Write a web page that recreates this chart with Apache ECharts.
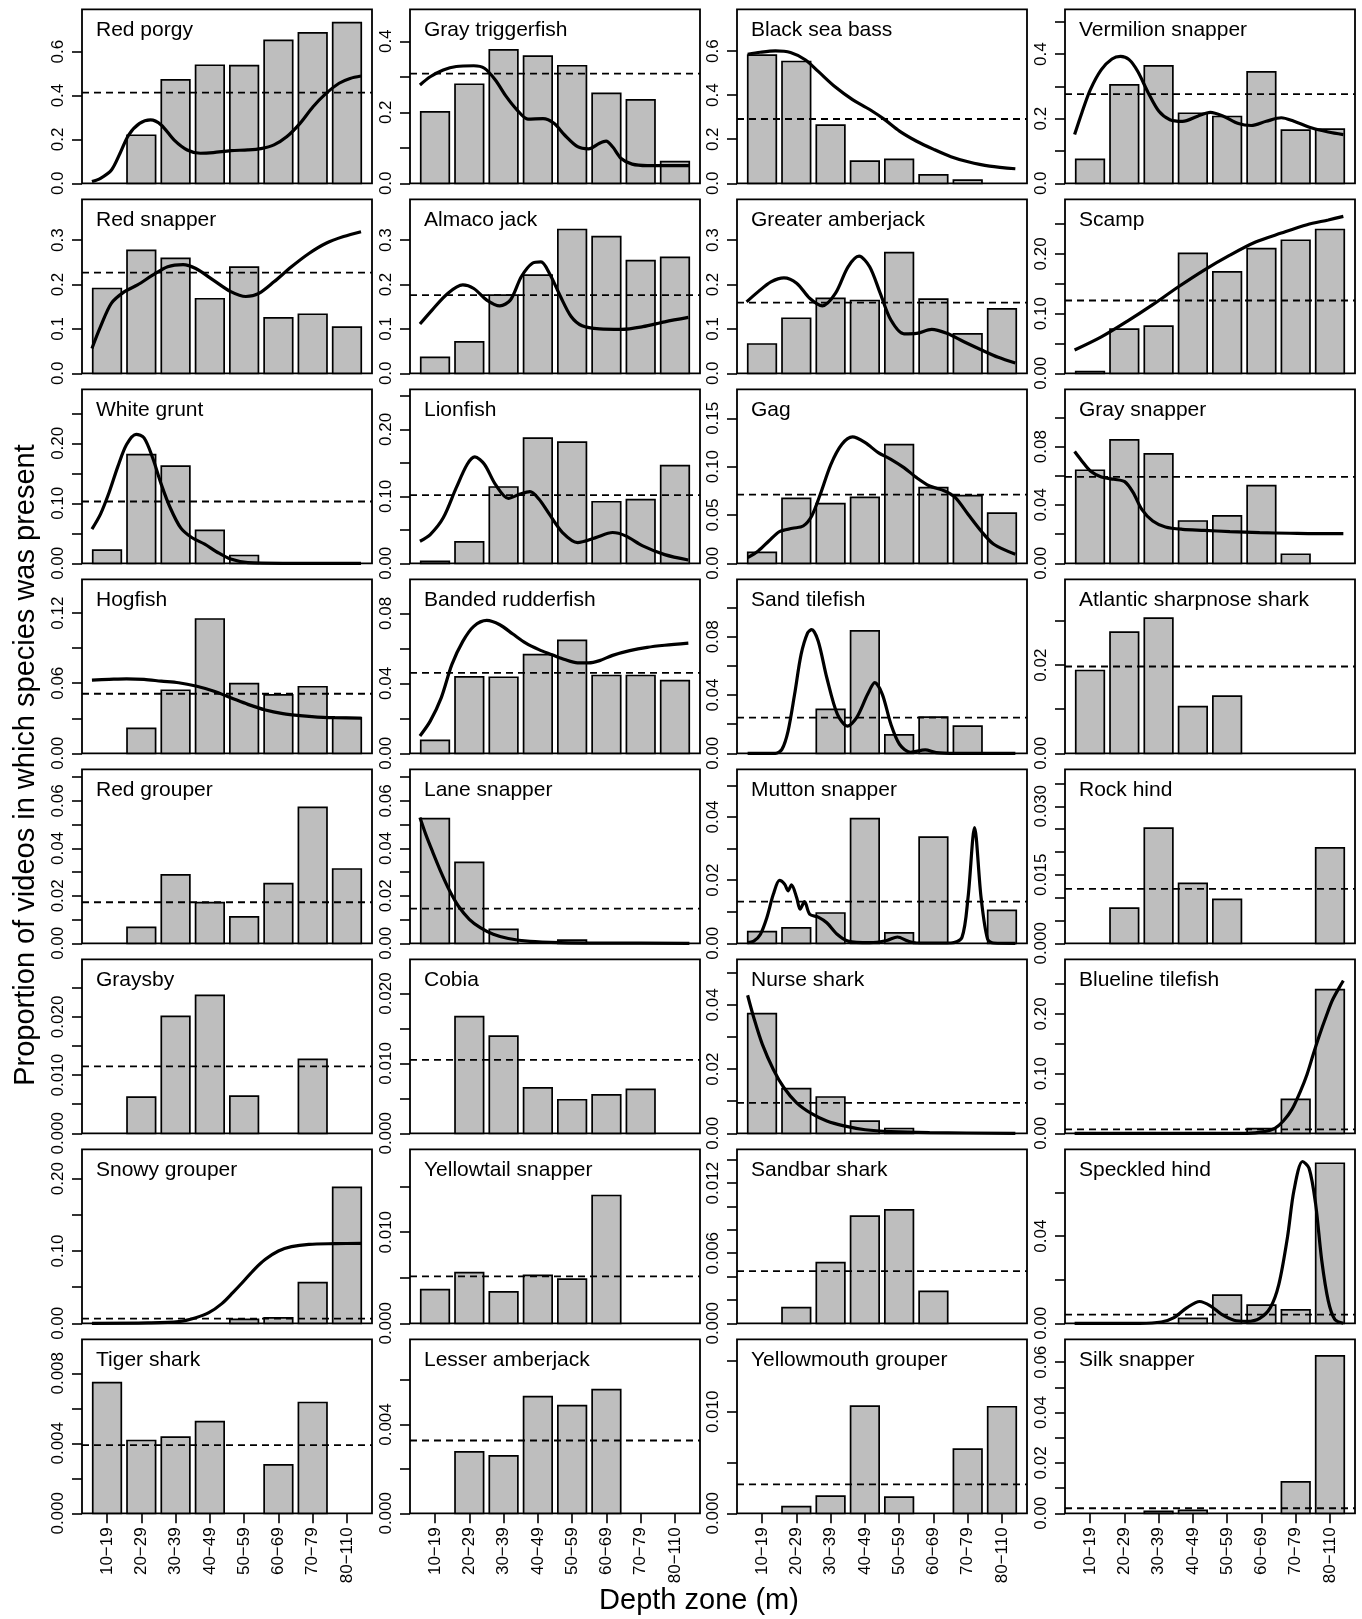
<!DOCTYPE html>
<html><head><meta charset="utf-8">
<script src="https://cdn.jsdelivr.net/npm/echarts@6/dist/echarts.min.js"></script>
<style>html,body{margin:0;padding:0;background:#fff}#c{width:1362px;height:1619px}</style>
</head><body><div id="c"></div>
<script>
// ---------------- DATA ----------------
const depthZones = ['10\u221219','20\u221229','30\u221239','40\u221249','50\u221259','60\u221269','70\u221279','80\u2212110'];
const zonePos = [1,2,3,4,5,6,7,8];

const species = ['Red porgy','Gray triggerfish','Black sea bass','Vermilion snapper',
 'Red snapper','Almaco jack','Greater amberjack','Scamp',
 'White grunt','Lionfish','Gag','Gray snapper',
 'Hogfish','Banded rudderfish','Sand tilefish','Atlantic sharpnose shark',
 'Red grouper','Lane snapper','Mutton snapper','Rock hind',
 'Graysby','Cobia','Nurse shark','Blueline tilefish',
 'Snowy grouper','Yellowtail snapper','Sandbar shark','Speckled hind',
 'Tiger shark','Lesser amberjack','Yellowmouth grouper','Silk snapper'];

// proportion of videos with species present, per depth zone
const presence = [
 [0,0.219,0.471,0.538,0.536,0.651,0.686,0.732],
 [0.201,0.279,0.376,0.358,0.331,0.253,0.235,0.061],
 [0.582,0.553,0.264,0.101,0.109,0.038,0.014,0],
 [0.074,0.305,0.364,0.217,0.207,0.345,0.165,0.168],
 [0.191,0.277,0.259,0.168,0.239,0.125,0.133,0.104],
 [0.036,0.071,0.176,0.221,0.324,0.308,0.254,0.261],
 [0.066,0.124,0.169,0.164,0.272,0.167,0.089,0.145],
 [0.003,0.074,0.079,0.201,0.170,0.209,0.223,0.241],
 [0.022,0.181,0.162,0.055,0.013,0,0,0],
 [0.003,0.032,0.114,0.187,0.181,0.092,0.095,0.146],
 [0.0114,0.0672,0.0617,0.0683,0.1228,0.0783,0.070,0.052],
 [0.0638,0.0846,0.075,0.029,0.0325,0.0533,0.0062,0],
 [0,0.0214,0.054,0.115,0.0596,0.050,0.057,0.0305],
 [0.0074,0.0437,0.0435,0.0564,0.0646,0.0445,0.0445,0.0416],
 [0,0,0.0302,0.0841,0.0126,0.0249,0.0187,0],
 [0.0188,0.0275,0.0307,0.0106,0.013,0,0,0],
 [0,0.0067,0.0288,0.0171,0.0111,0.0251,0.0573,0.0313],
 [0.0525,0.0341,0.0059,0,0.0013,0,0,0],
 [0.0037,0.0049,0.0096,0.0395,0.0033,0.0336,0,0.0104],
 [0,0.0077,0.0252,0.0131,0.0096,0,0,0.0209],
 [0,0.0062,0.0201,0.0237,0.0064,0,0.0127,0],
 [0,0.0167,0.0139,0.0065,0.0048,0.0055,0.0063,0],
 [0.0373,0.0139,0.0113,0.0038,0.0015,0,0,0],
 [0,0,0,0,0,0.0078,0.0568,0.2407],
 [0,0,0,0,0.0055,0.0074,0.0562,0.188],
 [0.0037,0.00557,0.00344,0.00527,0.00484,0.01403,0,0],
 [0,0.00134,0.0052,0.00917,0.00971,0.00274,0,0],
 [0,0,0,0.0023,0.0129,0.0083,0.0062,0.0734],
 [0.00747,0.00416,0.00435,0.00524,0,0.00277,0.00633,0],
 [0,0.00277,0.00259,0.00526,0.00485,0.00557,0,0],
 [0,0.00066,0.0017,0.01056,0.0016,0,0.00633,0.0105],
 [0,0,0.0008,0.0012,0,0,0.0125,0.0625]
];

// overall proportion (dashed line)
const overall = [0.413,0.309,0.292,0.276,0.227,0.176,0.159,0.122,0.103,0.102,0.071,0.0592,
 0.051,0.046,0.0245,0.0197,0.0173,0.0146,0.0132,0.0119,0.0115,0.0105,0.0095,0.0067,
 0.0065,0.00516,0.00446,0.004,0.0039,0.00328,0.00285,0.002];

// y axis top, tick step, label every n-th tick
const yMax = [0.793,0.49,0.79,0.539,0.392,0.392,0.392,0.2916,0.29,0.26,0.18,0.1193,
 0.149,0.0995,0.1195,0.0395,0.0733,0.0733,0.0551,0.0381,0.0299,0.0249,0.0542,0.2914,
 0.2406,0.0191,0.0149,0.0798,0.00994,0.00784,0.01715,0.0691];
const yStep = [0.2,0.1,0.2,0.1,0.1,0.1,0.1,0.05,0.05,0.05,0.05,0.02,
 0.03,0.02,0.02,0.01,0.01,0.01,0.01,0.005,0.005,0.005,0.01,0.05,
 0.05,0.005,0.002,0.02,0.002,0.002,0.005,0.01];
const labelEvery = [1,2,1,2,1,1,1,2,2,2,1,2,
 2,2,2,2,2,2,2,3,2,2,2,2,
 2,2,3,2,2,2,2,2];

// smoothed curves: [zone position, proportion]
const curveRedPorgy = [[0.56,0.008],[0.81,0.023],[1.13,0.061],[1.38,0.137],[1.63,0.22],[1.95,0.273],[2.27,0.289],[2.58,0.266],[2.96,0.197],[3.34,0.152],[3.72,0.137],[4.10,0.14],[4.61,0.149],[5.11,0.152],[5.49,0.158],[5.87,0.175],[6.25,0.213],[6.63,0.273],[7.01,0.349],[7.39,0.41],[7.77,0.456],[8.09,0.478],[8.41,0.489]];
const curveGrayTriggerfish = [[0.56,0.277],[0.86,0.300],[1.24,0.319],[1.62,0.329],[2.13,0.331],[2.44,0.324],[2.76,0.291],[3.08,0.244],[3.39,0.207],[3.71,0.181],[4.15,0.182],[4.47,0.169],[4.78,0.136],[5.16,0.103],[5.48,0.097],[5.80,0.113],[5.99,0.119],[6.18,0.103],[6.43,0.070],[6.75,0.054],[7.19,0.050],[7.82,0.050],[8.42,0.050]];
const curveBlackSeaBass = [[0.58,0.586],[0.95,0.595],[1.39,0.601],[1.83,0.594],[2.26,0.561],[2.64,0.508],[3.14,0.437],[3.64,0.380],[4.14,0.335],[4.58,0.289],[5.01,0.237],[5.51,0.191],[6.01,0.154],[6.51,0.121],[7.01,0.098],[7.64,0.078],[8.39,0.066]];
const curveVermilion = [[0.55,0.151],[0.76,0.218],[1.01,0.290],[1.33,0.352],[1.64,0.385],[1.89,0.393],[2.14,0.383],[2.39,0.347],[2.70,0.280],[3.01,0.223],[3.33,0.197],[3.70,0.192],[4.14,0.208],[4.51,0.220],[4.89,0.208],[5.33,0.185],[5.70,0.179],[6.14,0.192],[6.58,0.203],[6.95,0.192],[7.45,0.172],[7.95,0.159],[8.39,0.151]];
const curveRedSnapper = [[0.56,0.056],[0.81,0.105],[1.13,0.158],[1.51,0.184],[1.89,0.199],[2.33,0.221],[2.77,0.240],[3.22,0.245],[3.59,0.236],[4.10,0.210],[4.61,0.184],[5.05,0.173],[5.43,0.180],[5.87,0.206],[6.38,0.240],[6.89,0.270],[7.39,0.293],[7.90,0.308],[8.41,0.319]];
const curveAlmaco = [[0.56,0.111],[0.92,0.143],[1.37,0.180],[1.81,0.199],[2.13,0.191],[2.51,0.165],[2.89,0.152],[3.20,0.165],[3.52,0.218],[3.84,0.248],[4.09,0.251],[4.34,0.225],[4.66,0.173],[4.97,0.128],[5.29,0.107],[5.80,0.100],[6.43,0.099],[7.06,0.105],[7.70,0.116],[8.39,0.126]];
const curveGreaterAmberjack = [[0.55,0.161],[0.89,0.184],[1.26,0.206],[1.64,0.215],[2.01,0.203],[2.39,0.169],[2.76,0.152],[3.14,0.180],[3.51,0.240],[3.83,0.264],[4.14,0.240],[4.45,0.180],[4.76,0.120],[5.14,0.089],[5.51,0.090],[5.95,0.099],[6.39,0.090],[6.89,0.071],[7.39,0.053],[7.89,0.036],[8.39,0.023]];
const curveScamp = [[0.55,0.039],[1.33,0.061],[2.08,0.087],[2.83,0.115],[3.58,0.145],[4.33,0.173],[5.08,0.198],[5.83,0.220],[6.58,0.235],[7.33,0.249],[7.95,0.257],[8.39,0.263]];
const curveWhiteGrunt = [[0.56,0.057],[0.81,0.082],[1.06,0.118],[1.32,0.162],[1.57,0.198],[1.85,0.215],[2.08,0.209],[2.33,0.176],[2.58,0.132],[2.84,0.093],[3.15,0.059],[3.47,0.043],[3.85,0.032],[4.23,0.018],[4.61,0.007],[5.11,0.001],[6.13,0],[8.41,0]];
const curveLionfish = [[0.56,0.033],[0.86,0.043],[1.24,0.068],[1.62,0.113],[1.94,0.148],[2.16,0.159],[2.44,0.148],[2.76,0.118],[3.14,0.097],[3.46,0.103],[3.77,0.107],[4.03,0.096],[4.34,0.073],[4.72,0.046],[5.16,0.031],[5.67,0.038],[6.18,0.046],[6.56,0.041],[7.06,0.026],[7.70,0.013],[8.39,0.005]];
const curveGag = [[0.58,0.0059],[0.89,0.0128],[1.2,0.0231],[1.51,0.0328],[1.89,0.0362],[2.2,0.0386],[2.45,0.049],[2.7,0.0714],[3.01,0.1024],[3.33,0.1231],[3.64,0.1307],[4.01,0.1248],[4.39,0.1145],[4.76,0.1076],[5.14,0.099],[5.51,0.0886],[5.89,0.08],[6.33,0.0748],[6.64,0.0679],[7.01,0.0507],[7.39,0.0334],[7.76,0.0197],[8.39,0.0093]];
const curveGraySnapper = [[0.55,0.0766],[0.76,0.0702],[1.01,0.0633],[1.33,0.0592],[1.7,0.0576],[2.01,0.056],[2.26,0.0485],[2.51,0.037],[2.83,0.029],[3.2,0.0249],[3.7,0.0233],[4.33,0.0226],[5.08,0.0217],[5.95,0.021],[6.83,0.0206],[7.58,0.0203],[8.39,0.0203]];
const curveHogfish = [[0.56,0.0627],[1.06,0.0633],[1.57,0.0638],[2.08,0.0633],[2.58,0.0618],[3.09,0.0604],[3.59,0.0576],[4.10,0.0533],[4.61,0.0476],[5.11,0.0419],[5.62,0.0371],[6.13,0.034],[6.63,0.0322],[7.14,0.031],[7.65,0.0305],[8.41,0.030]];
const curveBandedRudderfish = [[0.56,0.0099],[0.86,0.0184],[1.18,0.0317],[1.49,0.0507],[1.81,0.064],[2.13,0.0726],[2.51,0.076],[2.89,0.0735],[3.27,0.0682],[3.65,0.063],[4.03,0.0593],[4.41,0.0564],[4.78,0.0536],[5.16,0.0517],[5.48,0.0517],[5.80,0.053],[6.18,0.056],[6.68,0.0587],[7.19,0.0606],[7.70,0.0618],[8.39,0.063]];
const curveSandTilefish = [[0.58,0],[1.0,0],[1.39,0],[1.58,0.0027],[1.76,0.0153],[1.95,0.0405],[2.14,0.0679],[2.33,0.0827],[2.45,0.085],[2.64,0.077],[2.89,0.0519],[3.2,0.0267],[3.49,0.0187],[3.76,0.0245],[4.08,0.0405],[4.29,0.0485],[4.51,0.0405],[4.76,0.0199],[5.01,0.0062],[5.33,0.0007],[5.76,0.0023],[6.08,0.0005],[6.64,0],[7.5,0],[8.39,0]];
const curveLaneSnapper = [[0.56,0.053],[0.73,0.0459],[0.92,0.0389],[1.18,0.0298],[1.43,0.022],[1.68,0.0157],[2.0,0.0101],[2.32,0.0066],[2.70,0.0038],[3.14,0.002],[3.77,0.0008],[4.66,0.0003],[5.92,0.0001],[8.42,0]];
const curveMuttonSnapper = [[0.58,0.0002],[0.76,0.0007],[0.95,0.0028],[1.14,0.0081],[1.33,0.0155],[1.51,0.0199],[1.66,0.0187],[1.76,0.0166],[1.86,0.0185],[2.01,0.0145],[2.11,0.0108],[2.24,0.0132],[2.39,0.0092],[2.64,0.0083],[2.89,0.0065],[3.2,0.0028],[3.51,0.0007],[4.14,0.0002],[4.64,0.0009],[4.95,0.002],[5.26,0.0007],[5.51,0.0001],[6.51,0.0001],[6.83,0.0018],[7.01,0.0145],[7.20,0.0366],[7.39,0.0145],[7.58,0.0013],[7.76,0.0001],[8.39,0]];
const curveNurseShark = [[0.58,0.043],[0.76,0.036],[1.01,0.0277],[1.33,0.0199],[1.64,0.0142],[2.01,0.0095],[2.45,0.0061],[2.89,0.0038],[3.39,0.0023],[4.01,0.0011],[4.76,0.0005],[5.89,0.0002],[8.39,0]];
const curveBluelineTilefish = [[0.55,0],[2.5,0],[4.5,0],[5.58,0],[6.08,0.0028],[6.39,0.0084],[6.64,0.0206],[6.89,0.040],[7.14,0.0708],[7.33,0.0986],[7.51,0.132],[7.70,0.1655],[7.89,0.196],[8.08,0.224],[8.39,0.2557]];
const curveSnowyGrouper = [[0.56,0],[2.2,0.0005],[3.09,0.0023],[3.59,0.0078],[3.97,0.0147],[4.35,0.0272],[4.67,0.0424],[4.99,0.0585],[5.30,0.0747],[5.62,0.0885],[6.0,0.1],[6.38,0.106],[6.89,0.1092],[7.65,0.1101],[8.41,0.1106]];
const curveSpeckledHind = [[0.55,0],[1.5,0],[2.45,0],[3.08,0.0006],[3.45,0.0026],[3.83,0.0072],[4.2,0.01],[4.51,0.008],[4.83,0.0042],[5.2,0.0014],[5.58,0.0009],[5.95,0.0023],[6.26,0.0072],[6.51,0.018],[6.76,0.0395],[6.95,0.061],[7.20,0.0742],[7.39,0.0711],[7.58,0.0549],[7.76,0.0288],[7.95,0.0103],[8.14,0.0018],[8.39,0]];

const curves = [curveRedPorgy,curveGrayTriggerfish,curveBlackSeaBass,curveVermilion,
 curveRedSnapper,curveAlmaco,curveGreaterAmberjack,curveScamp,
 curveWhiteGrunt,curveLionfish,curveGag,curveGraySnapper,
 curveHogfish,curveBandedRudderfish,curveSandTilefish,null,
 null,curveLaneSnapper,curveMuttonSnapper,null,
 null,null,curveNurseShark,curveBluelineTilefish,
 curveSnowyGrouper,null,null,curveSpeckledHind,
 null,null,null,null];

// ---------------- LAYOUT ----------------
const FONT = '"Liberation Sans", Arial, Helvetica, sans-serif';
const XMIN = 0.27, XMAX = 8.73, HALF = 0.4167;
const colLeft = [82, 410, 737, 1065];
const BOX_W = 290, BOX_H = 174, TOP0 = 9.3, ROW_PITCH = 190;

const grids = [], xAxes = [], yAxes = [], series = [], titles = [];

function renderBar(params, api) {
  const x = api.value(0), y = api.value(1);
  if (!(y > 0)) return {type: 'group', children: []};
  const a = api.coord([x - HALF, y]);
  const b = api.coord([x + HALF, 0]);
  return {type: 'rect', shape: {x: a[0], y: a[1], width: b[0] - a[0], height: b[1] - a[1]},
    style: {fill: '#bebebe', stroke: '#000', lineWidth: 1.7}};
}

species.forEach((name, i) => {
  const r = Math.floor(i / 4), c = i % 4;
  const left = colLeft[c], top = TOP0 + r * ROW_PITCH;
  const bottomRow = r === 7;
  grids.push({left: left, top: top, width: BOX_W, height: BOX_H, show: true,
    borderColor: '#000', borderWidth: 1.8, backgroundColor: 'transparent'});
  titles.push({text: name, left: left + 14, top: top + 10, padding: 0,
    textStyle: {fontSize: 21, fontWeight: 'normal', color: '#000', fontFamily: FONT}});

  const step = yStep[i];
  const dec = Math.max(0, Math.ceil(-Math.log10(step) - 1e-9));
  const ticks = [], labels = [];
  for (let k = 0; k * step <= yMax[i] + 1e-12; k++) {
    const v = +(k * step).toFixed(6);
    ticks.push(v);
    if (k % labelEvery[i] === 0) labels.push(v);
  }
  xAxes.push({gridIndex: i, type: 'value', min: XMIN, max: XMAX, show: bottomRow,
    axisLine: {show: false}, splitLine: {show: false},
    axisTick: {show: bottomRow, customValues: zonePos, length: 10, lineStyle: {color: '#000', width: 1.6}},
    axisLabel: {show: bottomRow, customValues: zonePos, rotate: 90, margin: 14,
      formatter: v => depthZones[Math.round(v) - 1], fontSize: 17, color: '#000', fontFamily: FONT}});
  yAxes.push({gridIndex: i, type: 'value', min: 0, max: yMax[i],
    axisLine: {show: false}, splitLine: {show: false},
    axisTick: {show: true, customValues: ticks, length: 10, lineStyle: {color: '#000', width: 1.6}},
    axisLabel: {customValues: labels, rotate: 90, margin: 15,
      formatter: v => Number(v).toFixed(dec), fontSize: 17, color: '#000', fontFamily: FONT}});

  series.push({type: 'custom', xAxisIndex: i, yAxisIndex: i, renderItem: renderBar,
    encode: {x: 0, y: 1}, data: presence[i].map((v, k) => [zonePos[k], v]), z: 2});
  series.push({type: 'line', xAxisIndex: i, yAxisIndex: i, symbol: 'none', silent: true,
    data: [[XMIN, overall[i]], [XMAX, overall[i]]],
    lineStyle: {color: '#000', width: 1.8, type: [7, 5]}, z: 3});
  if (curves[i]) {
    series.push({type: 'line', xAxisIndex: i, yAxisIndex: i, symbol: 'none', showSymbol: false,
      smooth: 0.3, data: curves[i], lineStyle: {color: '#000', width: 3.2}, z: 4});
  }
});

const chart = echarts.init(document.getElementById('c'), null, {renderer: 'canvas'});
chart.setOption({
  animation: false,
  backgroundColor: '#fff',
  title: titles,
  grid: grids,
  xAxis: xAxes,
  yAxis: yAxes,
  series: series,
  graphic: [
    {type: 'text', x: 26, y: 765, rotation: Math.PI / 2,
      style: {text: 'Proportion of videos in which species was present', font: '29px ' + FONT,
        fill: '#000', align: 'center', verticalAlign: 'middle'}},
    {type: 'text', x: 699, y: 1601,
      style: {text: 'Depth zone (m)', font: '29px ' + FONT, fill: '#000', align: 'center', verticalAlign: 'middle'}}
  ]
});
</script>
</body></html>
